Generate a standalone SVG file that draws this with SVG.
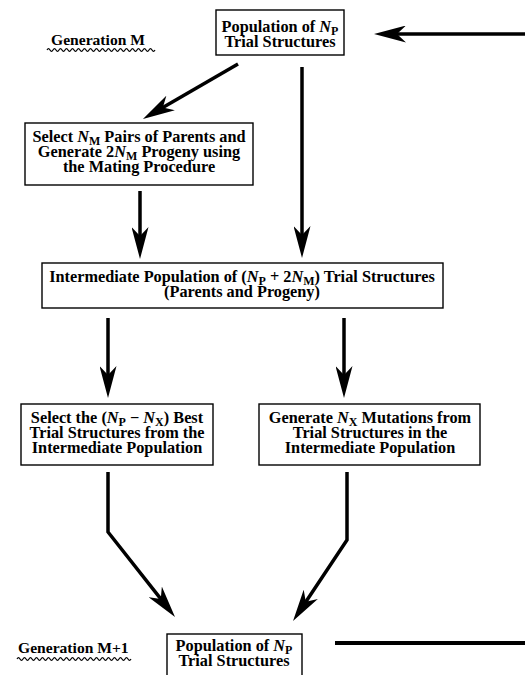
<svg xmlns="http://www.w3.org/2000/svg" width="525" height="675" viewBox="0 0 525 675">
<style>
  .box { fill: #fff; stroke: #000; stroke-width: 1.4; }
  .t { font-family: "Liberation Serif", "Times New Roman", serif; font-weight: bold; font-size: 16.3px; fill: #000; text-anchor: middle; }
  .lbl { font-family: "Liberation Serif", "Times New Roman", serif; font-weight: bold; font-size: 15.6px; fill: #000; }
  .i { font-style: italic; }
  .s { font-size: 12px; }
  .c { fill: none; stroke: #000; stroke-width: 3.5; stroke-linejoin: miter; }
  .wave { fill: none; stroke: #000; stroke-width: 1.2; }
</style>
<defs>
  <marker id="ah" viewBox="0 0 32 17" refX="16" refY="8.5" markerWidth="32" markerHeight="17" markerUnits="userSpaceOnUse" orient="auto">
    <path d="M0,0 L32,8.5 L0,17 L9,8.5 Z" fill="#000"/>
  </marker>
</defs>

<g id="label-gen-m">
  <text class="lbl" x="51" y="45">Generation M</text>
  <path class="wave" d="M47,50 q1.5,-2.6 3,0 t3,0 t3,0 t3,0 t3,0 t3,0 t3,0 t3,0 t3,0 t3,0 t3,0 t3,0 t3,0 t3,0 t3,0 t3,0 t3,0 t3,0 t3,0 t3,0 t3,0 t3,0 t3,0 t3,0 t3,0 t3,0 t3,0 t3,0 t3,0 t3,0 t3,0 t3,0 t3,0 t3,0 t3,0 t3,0"/>
</g>

<g id="label-gen-m1">
  <text class="lbl" x="18" y="653">Generation M+1</text>
  <path class="wave" d="M17,659 q1.5,-2.6 3,0 t3,0 t3,0 t3,0 t3,0 t3,0 t3,0 t3,0 t3,0 t3,0 t3,0 t3,0 t3,0 t3,0 t3,0 t3,0 t3,0 t3,0 t3,0 t3,0 t3,0 t3,0 t3,0 t3,0 t3,0 t3,0 t3,0 t3,0 t3,0 t3,0 t3,0 t3,0 t3,0 t3,0 t3,0 t3,0 t3,0 t3,0"/>
</g>

<g id="connectors">
  <line class="c" x1="525" y1="34" x2="390" y2="34" marker-end="url(#ah)"/>
  <line class="c" x1="238" y1="64" x2="156.8" y2="111" marker-end="url(#ah)"/>
  <line class="c" x1="302" y1="67" x2="302" y2="242" marker-end="url(#ah)"/>
  <line class="c" x1="140" y1="191" x2="140" y2="243" marker-end="url(#ah)"/>
  <line class="c" x1="108" y1="318" x2="108" y2="382" marker-end="url(#ah)"/>
  <line class="c" x1="344" y1="318" x2="344" y2="382" marker-end="url(#ah)"/>
  <polyline class="c" points="108,472 108,532 165.1,604.4" marker-end="url(#ah)"/>
  <polyline class="c" points="347,472 347,540 301.9,607.7" marker-end="url(#ah)"/>
  <line class="c" x1="335" y1="643" x2="525" y2="643" style="stroke-width:4"/>
</g>

<g id="node-pop-top">
  <rect class="box" x="216" y="10" width="128" height="45"/>
  <text class="t" x="280" y="32">Population of <tspan class="i">N</tspan><tspan class="s" dy="3">P</tspan></text>
  <text class="t" x="280" y="47">Trial Structures</text>
</g>

<g id="node-select-mating">
  <rect class="box" x="25" y="123" width="228" height="62"/>
  <text class="t" x="139" y="142">Select <tspan class="i">N</tspan><tspan class="s" dy="3">M</tspan><tspan dy="-3"> Pairs of Parents and</tspan></text>
  <text class="t" x="139" y="157">Generate 2<tspan class="i">N</tspan><tspan class="s" dy="3">M</tspan><tspan dy="-3"> Progeny using</tspan></text>
  <text class="t" x="139" y="172">the Mating Procedure</text>
</g>

<g id="node-intermediate">
  <rect class="box" x="42" y="263" width="401" height="45"/>
  <text class="t" x="242" y="282">Intermediate Population of  (<tspan class="i">N</tspan><tspan class="s" dy="3">P</tspan><tspan dy="-3"> + 2</tspan><tspan class="i">N</tspan><tspan class="s" dy="3">M</tspan><tspan dy="-3">) Trial Structures</tspan></text>
  <text class="t" x="242" y="297">(Parents and Progeny)</text>
</g>

<g id="node-select-best">
  <rect class="box" x="21" y="404" width="192" height="61"/>
  <text class="t" x="117" y="423">Select the (<tspan class="i">N</tspan><tspan class="s" dy="3">P</tspan><tspan dy="-3"> − </tspan><tspan class="i">N</tspan><tspan class="s" dy="3">X</tspan><tspan dy="-3">) Best</tspan></text>
  <text class="t" x="117" y="438">Trial Structures from the</text>
  <text class="t" x="117" y="453">Intermediate Population</text>
</g>

<g id="node-mutations">
  <rect class="box" x="259" y="404" width="221" height="61"/>
  <text class="t" x="370" y="423">Generate <tspan class="i">N</tspan><tspan class="s" dy="3">X</tspan><tspan dy="-3"> Mutations from</tspan></text>
  <text class="t" x="370" y="438">Trial Structures in the</text>
  <text class="t" x="370" y="453">Intermediate Population</text>
</g>

<g id="node-pop-bottom">
  <rect class="box" x="167" y="634" width="135" height="50"/>
  <text class="t" x="234" y="651">Population of <tspan class="i">N</tspan><tspan class="s" dy="3">P</tspan></text>
  <text class="t" x="234" y="666">Trial Structures</text>
</g>
</svg>
